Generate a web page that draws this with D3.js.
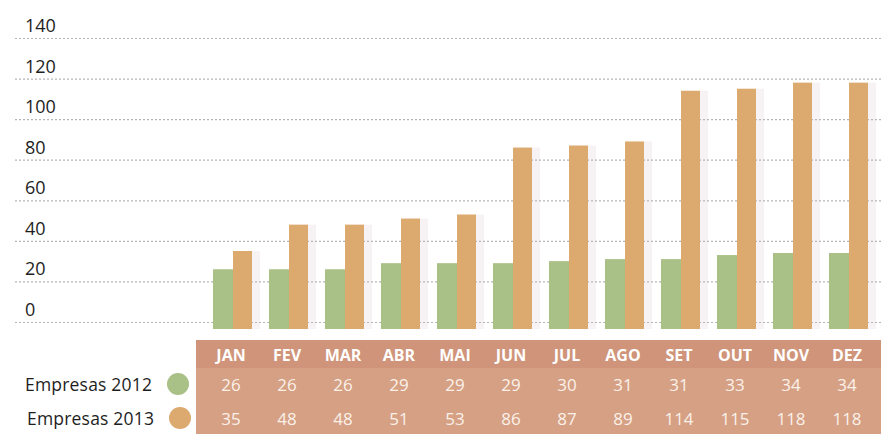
<html>
<head>
<meta charset="utf-8">
<script src="https://cdn.jsdelivr.net/npm/d3@7"></script>
<style>
  body { margin: 0; background: #fff; }
  text { font-family: "Open Sans", Lato, sans-serif; }
</style>
</head>
<body>
<div id="container"></div>
<script>
  const months = ["JAN", "FEV", "MAR", "ABR", "MAI", "JUN", "JUL", "AGO", "SET", "OUT", "NOV", "DEZ"];
  const empresas2012 = [26, 26, 26, 29, 29, 29, 30, 31, 31, 33, 34, 34];
  const empresas2013 = [35, 48, 48, 51, 53, 86, 87, 89, 114, 115, 118, 118];
  const yTicks = [0, 20, 40, 60, 80, 100, 120, 140];
  const seriesNames = ["Empresas 2012", "Empresas 2013"];

  const W = 881, H = 434;
  const green = "#a9c086", orange = "#dca96f";

  const svg = d3.select("#container").append("svg")
    .attr("width", W).attr("height", H);

  const y = d3.scaleLinear().domain([0, 140]).range([322, 38]);
  const x = d3.scaleBand().domain(months).range([205, 877]);
  const barW = 20, barBottom = 329;

  // faint shadows next to bar pairs
  svg.append("g").selectAll("rect")
    .data(months)
    .join("rect")
    .attr("x", d => x(d) + x.bandwidth() / 2 + barW - 1)
    .attr("y", (d, i) => y(empresas2013[i]))
    .attr("width", 8)
    .attr("height", (d, i) => barBottom - y(empresas2013[i]))
    .attr("fill", "#ece2e6")
    .attr("opacity", 0.4);

  // dotted grid
  const grid = svg.append("g");
  grid.selectAll("line")
    .data(yTicks)
    .join("line")
    .attr("x1", 15).attr("x2", W)
    .attr("y1", d => y(d) + 0.5).attr("y2", d => y(d) + 0.5)
    .attr("stroke", "#b5b5b5")
    .attr("stroke-width", 1.2)
    .attr("stroke-dasharray", "2,2");
  grid.selectAll("text")
    .data(yTicks)
    .join("text")
    .attr("x", 25)
    .attr("y", d => y(d) - 6)
    .attr("font-size", 18)
    .attr("fill", "#1e1e1e")
    .text(d => d);

  // bars
  const bars = svg.append("g");
  bars.selectAll(".b12")
    .data(empresas2012)
    .join("rect")
    .attr("class", "b12")
    .attr("x", (d, i) => x(months[i]) + x.bandwidth() / 2 - barW)
    .attr("y", d => y(d))
    .attr("width", barW)
    .attr("height", d => barBottom - y(d))
    .attr("fill", green);
  bars.selectAll(".b13")
    .data(empresas2013)
    .join("rect")
    .attr("class", "b13")
    .attr("x", (d, i) => x(months[i]) + x.bandwidth() / 2)
    .attr("y", d => y(d))
    .attr("width", barW - 1)
    .attr("height", d => barBottom - y(d))
    .attr("fill", orange);

  // table
  const table = svg.append("g");
  table.append("rect")
    .attr("x", 196).attr("y", 340)
    .attr("width", W - 196).attr("height", H - 340)
    .attr("fill", "#d5a083");
  table.append("rect")
    .attr("x", 196).attr("y", 340)
    .attr("width", W - 196).attr("height", 28)
    .attr("fill", "#cf9479");

  const cx = m => x(m) + x.bandwidth() / 2 - 2;
  table.selectAll(".mon")
    .data(months)
    .join("text")
    .attr("class", "mon")
    .attr("x", d => cx(d))
    .attr("y", 361)
    .attr("text-anchor", "middle")
    .attr("font-size", 16)
    .attr("font-weight", "bold")
    .attr("fill", "#fff")
    .text(d => d);

  [empresas2012, empresas2013].forEach((vals, r) => {
    table.selectAll(".v" + r)
      .data(vals)
      .join("text")
      .attr("class", "v" + r)
      .attr("x", (d, i) => cx(months[i]))
      .attr("y", 391 + r * 34)
      .attr("text-anchor", "middle")
      .attr("font-size", 17)
      .attr("fill", "#fbf1ea")
      .text(d => d);
  });

  // legend
  const legend = svg.append("g");
  legend.selectAll("text")
    .data(seriesNames)
    .join("text")
    .attr("x", (d, i) => 25 + i * 2)
    .attr("y", (d, i) => 391 + i * 34)
    .attr("font-size", 17.5)
    .attr("letter-spacing", 0.2)
    .attr("fill", "#1e1e1e")
    .text(d => d);
  legend.selectAll("circle")
    .data([green, orange])
    .join("circle")
    .attr("cx", (d, i) => 178 + i * 2)
    .attr("cy", (d, i) => 384 + i * 34)
    .attr("r", 11)
    .attr("fill", d => d);
</script>
</body>
</html>
